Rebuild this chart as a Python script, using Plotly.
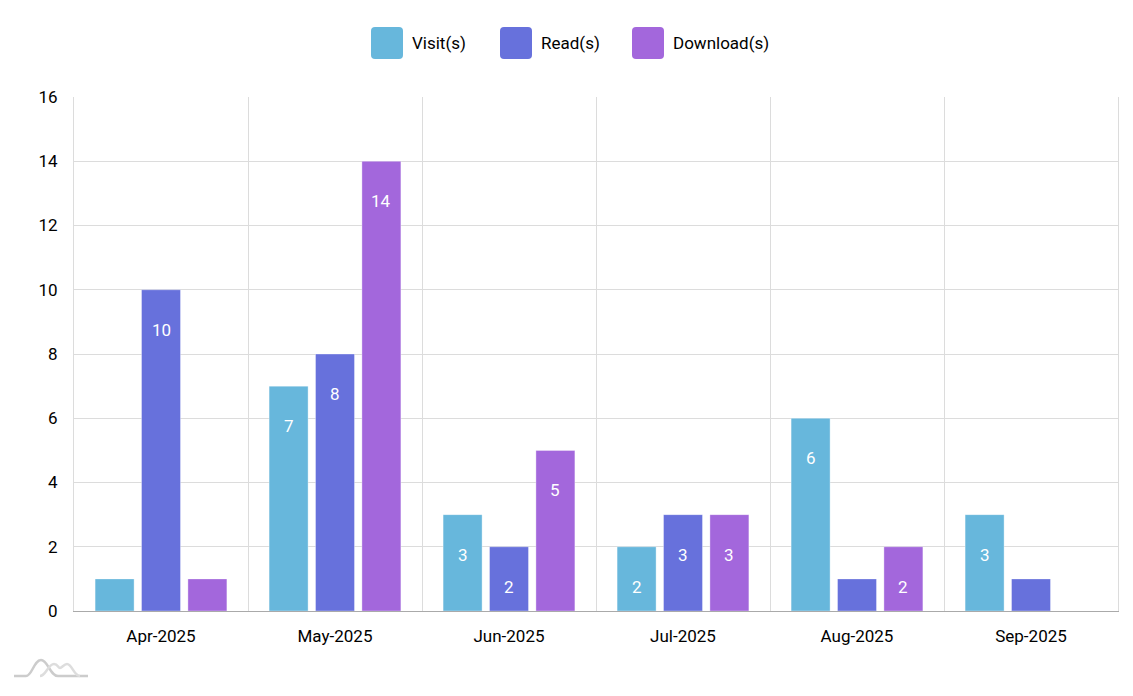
import plotly.graph_objects as go

months = ["Apr-2025", "May-2025", "Jun-2025", "Jul-2025", "Aug-2025", "Sep-2025"]
visits = [1, 7, 3, 2, 6, 3]
reads = [10, 8, 2, 3, 1, 1]
downloads = [1, 14, 5, 3, 2, 0]
series_names = ["Visit(s)", "Read(s)", "Download(s)"]
series_colors = ["#67b7dc", "#6771dc", "#a367dc"]
y_ticks = [0, 2, 4, 6, 8, 10, 12, 14, 16]

W, H = 1133, 696
ML, MR, MT, MB = 74, 15, 97, 85
PW = W - ML - MR
PH = H - MT - MB
BARGAP = 0.2
BARGROUPGAP = 0.16
FONT = "Roboto"
FSIZE = 17

series_values = [visits, reads, downloads]

fig = go.Figure()
for name, vals, col in zip(series_names, series_values, series_colors):
    fig.add_trace(go.Bar(
        x=months, y=vals, name=name,
        marker=dict(color=col, line=dict(width=1, color="rgba(255,255,255,0.35)")),
        showlegend=False, hoverinfo="skip",
    ))

# data labels inside bars
cat_px = PW / len(months)
slot_px = cat_px * (1 - BARGAP) / len(series_names)
annotations = []
for i, vals in enumerate(series_values):
    offset = (i - (len(series_names) - 1) / 2) * slot_px
    for m, v in zip(months, vals):
        if v >= 2:
            annotations.append(dict(
                x=m, y=v, xref="x", yref="y", text=str(v), showarrow=False,
                xshift=offset, yshift=-40, yanchor="middle",
                font=dict(family=FONT, size=FSIZE, color="white"),
            ))

# custom legend
legend_marker_cx = [387, 516, 648]
legend_text_x = [410, 539, 671]
legend_cy = 43
shapes = []
rr = ("M -12,-16 L 12,-16 Q 16,-16 16,-12 L 16,12 Q 16,16 12,16 "
      "L -12,16 Q -16,16 -16,12 L -16,-12 Q -16,-16 -12,-16 Z")
py = (H - MB - legend_cy) / PH
for name, col, cx, tx in zip(series_names, series_colors, legend_marker_cx, legend_text_x):
    shapes.append(dict(
        type="path", xref="paper", yref="paper",
        xsizemode="pixel", ysizemode="pixel",
        xanchor=(cx - ML) / PW, yanchor=py, path=rr,
        fillcolor=col, line=dict(width=0),
    ))
    annotations.append(dict(
        x=(tx - ML) / PW, y=py, xref="paper", yref="paper", text=name,
        showarrow=False, xanchor="left", yanchor="middle",
        font=dict(family=FONT, size=FSIZE, color="#000000"),
    ))

# faint logo bottom-left
logo_ax = (14 - ML) / PW
logo_ay = (H - MB - 676) / PH
shapes.append(dict(
    type="path", xref="paper", yref="paper", xsizemode="pixel", ysizemode="pixel",
    xanchor=logo_ax, yanchor=logo_ay,
    path="M 0,0 L 12,0 C 18,0 20,16 27,16 C 34,16 36,0 44,0 L 74,0",
    line=dict(color="#cccccc", width=2.5),
))
shapes.append(dict(
    type="path", xref="paper", yref="paper", xsizemode="pixel", ysizemode="pixel",
    xanchor=logo_ax, yanchor=logo_ay,
    path="M 26,0 C 32,0 34,12 40,12 C 44,12 44,8 46,8 C 48,8 50,12 53,12 C 58,12 60,0 66,0",
    line=dict(color="#dddddd", width=2.5),
))

fig.update_layout(
    width=W, height=H,
    margin=dict(l=ML, r=MR, t=MT, b=MB),
    paper_bgcolor="white", plot_bgcolor="white",
    barmode="group", bargap=BARGAP, bargroupgap=BARGROUPGAP,
    font=dict(family=FONT, size=FSIZE, color="#000000"),
    annotations=annotations, shapes=shapes,
    showlegend=False,
)
fig.update_xaxes(
    type="category", tickson="boundaries", showgrid=True, gridcolor="#dcdcdc",
    gridwidth=1, ticks="", showline=True, linecolor="#aaaaaa", linewidth=1,
    ticklabelstandoff=10,
    tickfont=dict(family=FONT, size=FSIZE, color="#000000"),
    zeroline=False, fixedrange=True,
)
fig.update_yaxes(
    range=[0, 16], tickvals=y_ticks, showgrid=True, gridcolor="#dcdcdc", gridwidth=1,
    ticks="", showline=True, mirror=True, linecolor="#dcdcdc", linewidth=1,
    zeroline=False, ticklabelstandoff=12,
    tickfont=dict(family=FONT, size=FSIZE, color="#000000"), fixedrange=True,
)

fig.write_html(
    "out.html",
    config={"displayModeBar": False},
    post_script="document.body.style.margin='0';document.body.style.overflow='hidden';",
)
